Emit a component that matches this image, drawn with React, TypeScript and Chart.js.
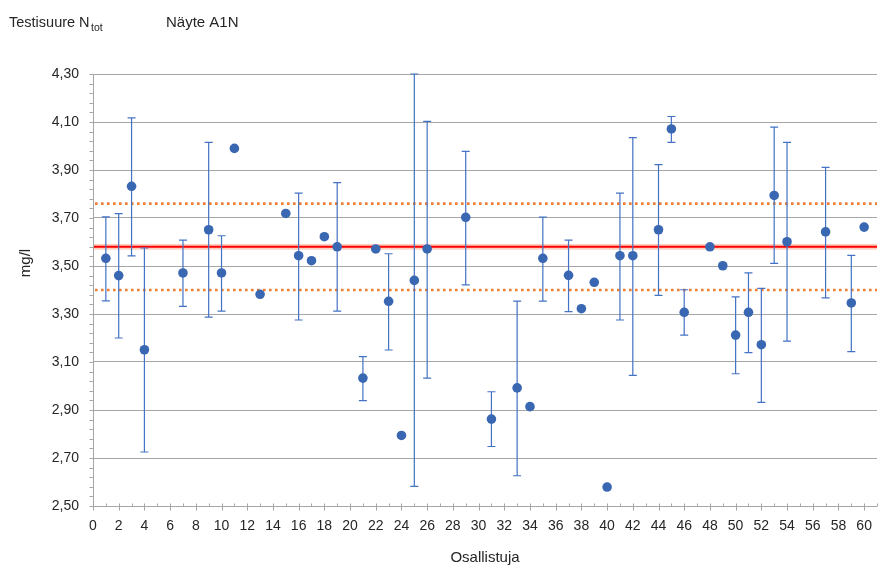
import React, { useEffect, useRef } from "react";
import { Chart, registerables } from "chart.js";

Chart.register(...registerables);

// ---- data ----
const participants = [1, 2, 3, 4, 7, 9, 10, 11, 13, 15, 16, 17, 18, 19, 21, 22, 23, 24, 25, 26, 29, 31, 33, 34, 35, 37, 38, 39, 40, 41, 42, 44, 45, 46, 48, 49, 50, 51, 52, 53, 54, 57, 59, 60];
const results = [3.532, 3.46, 3.832, 3.151, 3.471, 3.651, 3.471, 3.99, 3.382, 3.719, 3.543, 3.522, 3.622, 3.58, 3.033, 3.571, 3.353, 2.794, 3.44, 3.571, 3.703, 2.862, 2.992, 2.914, 3.532, 3.461, 3.322, 3.432, 2.579, 3.543, 3.543, 3.651, 4.071, 3.307, 3.58, 3.501, 3.212, 3.307, 3.172, 3.794, 3.601, 3.642, 3.346, 3.662];
const upperLimits: (number | null)[] = [3.705, 3.718, 4.117, 3.575, 3.608, 4.015, 3.626, null, null, null, 3.804, null, null, 3.847, 3.122, null, 3.551, null, 4.3, 4.103, 3.978, 2.976, 3.354, null, 3.704, 3.608, null, null, null, 3.804, 4.035, 3.922, 4.123, 3.401, null, null, 3.371, 3.471, 3.407, 4.079, 4.015, 3.911, 3.544, null];
const lowerLimits: (number | null)[] = [3.355, 3.2, 3.542, 2.725, 3.332, 3.287, 3.312, null, null, null, 3.275, null, null, 3.312, 2.939, null, 3.15, null, 2.582, 3.033, 3.421, 2.748, 2.626, null, 3.354, 3.31, null, null, null, 3.275, 3.044, 3.378, 4.015, 3.212, null, null, 3.051, 3.139, 2.932, 3.511, 3.187, 3.367, 3.143, null];
const xTickValues = [0, 2, 4, 6, 8, 10, 12, 14, 16, 18, 20, 22, 24, 26, 28, 30, 32, 34, 36, 38, 40, 42, 44, 46, 48, 50, 52, 54, 56, 58, 60];
const yTickValues = [2.5, 2.7, 2.9, 3.1, 3.3, 3.5, 3.7, 3.9, 4.1, 4.3];
const assignedValue = 3.58;
const assignedBand = [3.568, 3.592];
const toleranceLimits = [3.4, 3.76];

const FONT = "'Liberation Sans', Arial, sans-serif";
const TEXT = "#262626";
const GRID = "#A6A6A6";

const decorPlugin = {
  id: "decor",
  beforeDatasetsDraw(chart: any) {
    const { ctx, chartArea: a, scales } = chart;
    const x = scales.x;
    const y = scales.y;
    ctx.save();
    // axis lines
    ctx.strokeStyle = GRID;
    ctx.lineWidth = 1;
    const L = Math.round(a.left) + 0.5;
    const B = Math.round(a.bottom) + 0.5;
    ctx.beginPath();
    ctx.moveTo(L, a.top);
    ctx.lineTo(L, B);
    ctx.lineTo(a.right, B);
    ctx.stroke();
    // y ticks (major + minor every 0.04)
    ctx.beginPath();
    for (let k = 0; k <= 45; k++) {
      const v = 2.5 + k * 0.04;
      const py = Math.round(y.getPixelForValue(v)) + 0.5;
      ctx.moveTo(L - 4, py);
      ctx.lineTo(L, py);
    }
    // x ticks (every 1)
    for (let k = 0; k <= 61; k++) {
      const px = Math.round(x.getPixelForValue(k)) + 0.5;
      ctx.moveTo(px, B - 3);
      ctx.lineTo(px, k % 2 === 0 ? B + 4 : B);
    }
    ctx.stroke();

    // assigned value band and line
    const bTop = y.getPixelForValue(assignedBand[1]);
    const bBot = y.getPixelForValue(assignedBand[0]);
    ctx.fillStyle = "rgba(247,170,140,0.55)";
    ctx.fillRect(a.left + 1, bTop, a.right - a.left - 1, bBot - bTop);
    ctx.strokeStyle = "#FF0000";
    ctx.lineWidth = 2;
    ctx.beginPath();
    const ay = y.getPixelForValue(assignedValue);
    ctx.moveTo(a.left + 1, ay);
    ctx.lineTo(a.right, ay);
    ctx.stroke();

    // tolerance limits
    ctx.strokeStyle = "#ED7D31";
    ctx.lineWidth = 2.6;
    ctx.setLineDash([2.6, 3.4]);
    for (const t of toleranceLimits) {
      const ty = y.getPixelForValue(t);
      ctx.beginPath();
      ctx.moveTo(a.left + 2, ty);
      ctx.lineTo(a.right, ty);
      ctx.stroke();
    }
    ctx.setLineDash([]);

    // error bars
    ctx.strokeStyle = "#4472C4";
    ctx.lineWidth = 1.2;
    for (let i = 0; i < participants.length; i++) {
      const hi = upperLimits[i];
      const lo = lowerLimits[i];
      if (hi == null || lo == null) continue;
      const px = x.getPixelForValue(participants[i]);
      const yt = y.getPixelForValue(hi);
      const yb = y.getPixelForValue(lo);
      ctx.beginPath();
      ctx.moveTo(px, yt);
      ctx.lineTo(px, yb);
      ctx.moveTo(px - 4, yt);
      ctx.lineTo(px + 4, yt);
      ctx.moveTo(px - 4, yb);
      ctx.lineTo(px + 4, yb);
      ctx.stroke();
    }
    ctx.restore();
  },
  afterDraw(chart: any) {
    const { ctx } = chart;
    ctx.save();
    ctx.fillStyle = TEXT;
    ctx.textBaseline = "alphabetic";
    ctx.textAlign = "left";
    ctx.font = `14.5px ${FONT}`;
    ctx.fillText("Testisuure N", 9, 27);
    ctx.font = `10.5px ${FONT}`;
    ctx.fillText("tot", 91, 30.5);
    ctx.font = `15px ${FONT}`;
    ctx.fillText("Näyte A1N", 166, 27);
    // x title
    ctx.textAlign = "center";
    ctx.fillText("Osallistuja", 485, 562);
    // y title
    ctx.translate(26, 263);
    ctx.rotate(-Math.PI / 2);
    ctx.textBaseline = "middle";
    ctx.fillText("mg/l", 0, 0);
    ctx.restore();
  },
};

export default function App() {
  const ref = useRef<HTMLCanvasElement | null>(null);
  useEffect(() => {
    if (!ref.current) return;
    const chart = new Chart(ref.current, {
      type: "scatter",
      data: {
        datasets: [
          {
            data: participants.map((p, i) => ({ x: p, y: results[i] })),
            backgroundColor: "#3A67B1",
            borderWidth: 0,
            pointRadius: 4.8,
            pointHoverRadius: 4.8,
          },
        ],
      },
      options: {
        animation: false,
        responsive: false,
        devicePixelRatio: 1,
        layout: { autoPadding: false, padding: { top: 74, right: 1, left: 0, bottom: 0 } },
        plugins: { legend: { display: false }, tooltip: { enabled: false } },
        scales: {
          x: {
            type: "linear",
            min: 0,
            max: 61,
            grid: { display: false, drawTicks: false },
            border: { display: false },
            afterBuildTicks: (s: any) => {
              s.ticks = xTickValues.map((v) => ({ value: v }));
            },
            afterFit: (s: any) => {
              s.height = 59;
              s.paddingLeft = 0;
              s.paddingRight = 0;
            },
            ticks: {
              padding: 12,
              color: TEXT,
              font: { family: FONT, size: 14 },
              maxRotation: 0,
              autoSkip: false,
              callback: (v: any) => String(v),
            },
          },
          y: {
            type: "linear",
            min: 2.5,
            max: 4.3,
            grid: { display: true, drawTicks: false, color: GRID, lineWidth: 1 },
            border: { display: false },
            afterBuildTicks: (s: any) => {
              s.ticks = yTickValues.map((v) => ({ value: v }));
            },
            afterFit: (s: any) => {
              s.width = 93;
              s.paddingTop = 0;
              s.paddingBottom = 0;
            },
            ticks: {
              padding: 14,
              color: TEXT,
              font: { family: FONT, size: 14 },
              autoSkip: false,
              callback: (v: any) => Number(v).toFixed(2).replace(".", ","),
            },
          },
        },
      },
      plugins: [decorPlugin],
    });
    return () => chart.destroy();
  }, []);
  return (
    <div style={{ position: "absolute", left: 0, top: 0, width: 878, height: 565, background: "#fff" }}>
      <canvas ref={ref} width={878} height={565} style={{ display: "block" }} />
    </div>
  );
}
